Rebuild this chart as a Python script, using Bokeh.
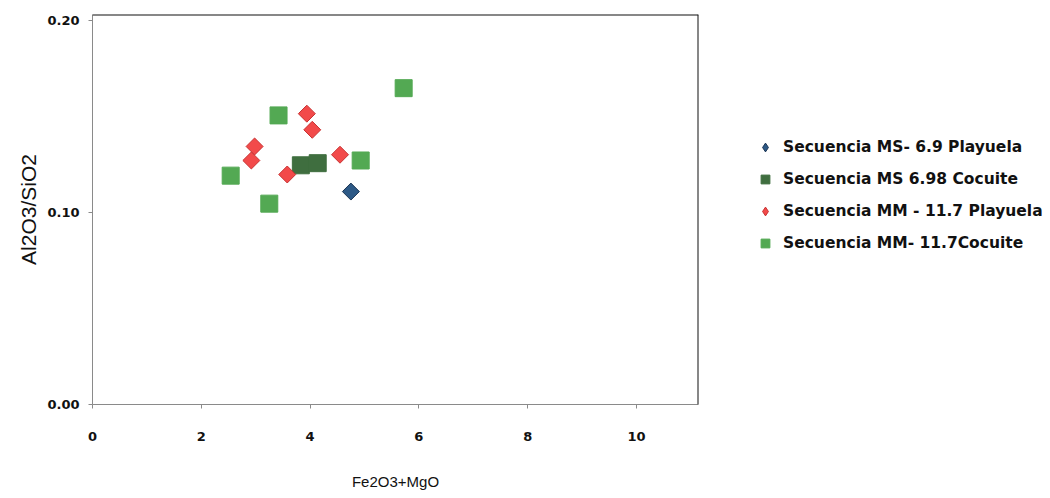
import math
from bokeh.plotting import figure
from bokeh.models import (Range1d, FixedTicker, NumeralTickFormatter, Legend, LegendItem, Span)
from bokeh.embed import file_html
from bokeh.resources import INLINE

# ---- data ----
ms69_playuela_x = [4.75]
ms69_playuela_y = [0.111]

ms698_cocuite_x = [3.83, 4.14]
ms698_cocuite_y = [0.1247, 0.1258]

mm117_playuela_x = [3.94, 4.04, 2.98, 2.92, 3.58, 4.55]
mm117_playuela_y = [0.1516, 0.1432, 0.1345, 0.1272, 0.1199, 0.1302]

mm117_cocuite_x = [5.72, 3.42, 4.93, 2.54, 3.25]
mm117_cocuite_y = [0.1649, 0.1507, 0.1272, 0.1193, 0.1047]

series_names = ["Secuencia MS- 6.9 Playuela", "Secuencia MS 6.98 Cocuite",
                "Secuencia MM - 11.7 Playuela", "Secuencia MM- 11.7Cocuite"]
x_ticks = [0, 2, 4, 6, 8, 10]
y_ticks = [0.0, 0.1, 0.2]
x_title = "Fe2O3+MgO"
y_title = "Al2O3/SiO2"

TICK_FONT = "DejaVu Sans"
LABEL_FONT = "Liberation Sans"

BLUE, BLUE_EDGE = "#2D5986", "#1C3554"
DKGREEN = "#3F6E3F"
RED, RED_EDGE = "#F24A4A", "#C83232"
GREEN = "#53A953"

p = figure(frame_width=606, frame_height=390, min_border_left=92, min_border_right=336,
           min_border_top=14, min_border_bottom=84,
           x_range=Range1d(0, 11.14), y_range=Range1d(0, 0.2033),
           output_backend="svg", toolbar_location=None)
p.outline_line_color = None
p.grid.visible = False
p.background_fill_color = "white"
p.border_fill_color = "white"

for ax in (p.xaxis[0], p.yaxis[0]):
    ax.axis_line_color = "#8a8a8a"
    ax.axis_line_width = 1
    ax.major_tick_line_color = "#8a8a8a"
    ax.major_tick_in = 0
    ax.major_tick_out = 4
    ax.minor_tick_line_color = None
    ax.major_label_text_font = TICK_FONT
    ax.major_label_text_font_style = "bold"
    ax.major_label_text_font_size = "13px"
    ax.major_label_text_color = "#111111"
    ax.axis_label_text_font = LABEL_FONT
    ax.axis_label_text_font_style = "normal"
    ax.axis_label_text_color = "#111111"

p.xaxis.ticker = FixedTicker(ticks=x_ticks)
p.yaxis.ticker = FixedTicker(ticks=y_ticks)
p.yaxis.formatter = NumeralTickFormatter(format="0.00")
p.xaxis.major_label_standoff = 23
p.yaxis.major_label_standoff = 9

p.xaxis.axis_label = x_title
p.xaxis.axis_label_text_font_size = "15px"
p.xaxis.axis_label_standoff = 29

p.yaxis.axis_label = y_title
p.yaxis.axis_label_text_font_size = "21px"
p.yaxis.axis_label_standoff = 4

# frame top and right borders (black)
p.add_layout(Span(location=0.2033, dimension="width", line_color="#111111", line_width=2))
p.add_layout(Span(location=11.14, dimension="height", line_color="#111111", line_width=2))

p.scatter(ms69_playuela_x, ms69_playuela_y, marker="square", angle=math.pi / 4, size=12,
          fill_color=BLUE, line_color=BLUE_EDGE, line_width=1)
r2 = p.scatter(ms698_cocuite_x, ms698_cocuite_y, marker="square", size=17,
               fill_color=DKGREEN, line_color=DKGREEN)
p.scatter(mm117_playuela_x, mm117_playuela_y, marker="square", angle=math.pi / 4, size=12,
          fill_color=RED, line_color=RED_EDGE, line_width=1)
r4 = p.scatter(mm117_cocuite_x, mm117_cocuite_y, marker="square", size=17,
               fill_color=GREEN, line_color=GREEN)

# legend-only diamond glyphs (the legend does not rotate markers); NaN -> nothing drawn in plot
nan = float("nan")
l1 = p.scatter(x=[nan], y=[nan], marker="diamond", size=12, fill_color=BLUE, line_color=BLUE_EDGE)
l3 = p.scatter(x=[nan], y=[nan], marker="diamond", size=12, fill_color=RED, line_color=RED_EDGE)

legend = Legend(items=[LegendItem(label=n, renderers=[r]) for n, r in
                       zip(series_names, [l1, r2, l3, r4])],
                location=(56, 150), glyph_width=22, glyph_height=22, label_height=22,
                spacing=10, padding=10, label_standoff=7, margin=0,
                border_line_color=None, background_fill_alpha=0,
                label_text_font=TICK_FONT, label_text_font_style="bold",
                label_text_font_size="15.5px", label_text_color="#111111")
p.add_layout(legend, "right")

open("out.html", "w").write(file_html(p, INLINE))
